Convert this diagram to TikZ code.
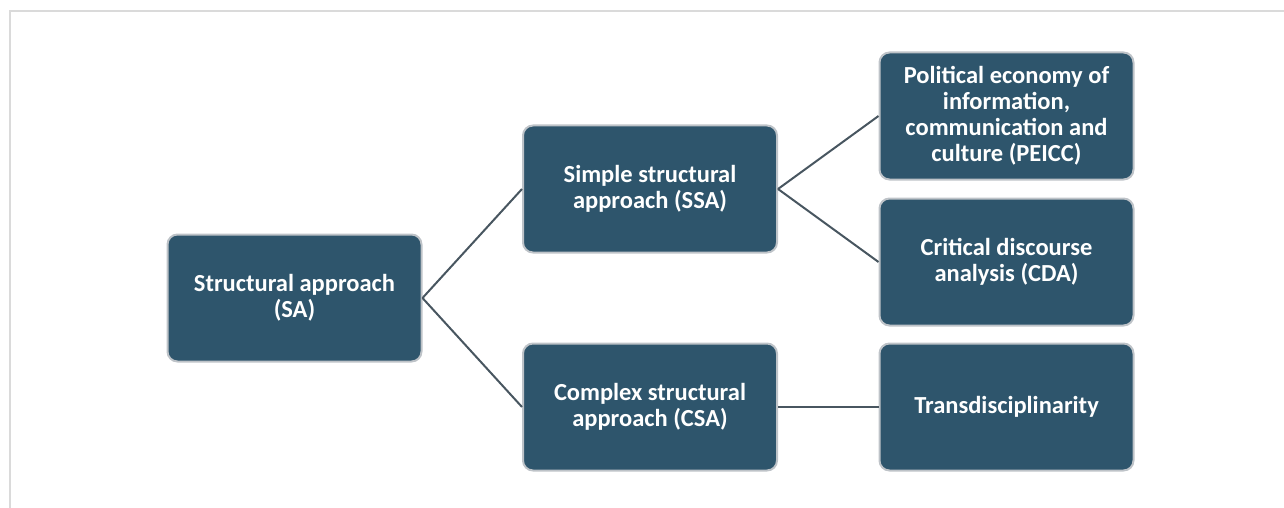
\documentclass[tikz,border=0pt]{standalone}
\usepackage{fontspec}
\setmainfont{Carlito}
\definecolor{boxfill}{RGB}{46,85,108}
\definecolor{boxedge}{RGB}{190,195,200}
\definecolor{linkc}{RGB}{72,86,96}
\definecolor{framec}{RGB}{218,218,218}
\begin{document}
\begin{tikzpicture}[x=1pt,y=-1pt,
  box/.style={draw=boxedge,line width=2pt,fill=boxfill,rounded corners=10pt,
    minimum width=254pt,minimum height=127pt,text=white,align=center,
    font=\fontsize{24.5}{26}\selectfont\bfseries,inner sep=0pt},
  link/.style={draw=linkc,line width=2pt}]
\useasboundingbox (0,0) rectangle (1284,508);
\draw[framec,line width=2pt] (10,508) -- (10,11) -- (1284,11);
\node[box] (sa) at (294.5,298) {Structural approach\\(SA)};
\node[box] (ssa) at (650,189) {Simple structural\\approach (SSA)};
\node[box] (csa) at (650,407) {Complex structural\\approach (CSA)};
\node[box] (peicc) at (1006.5,116) {Political economy of\\information,\\communication and\\culture (PEICC)};
\node[box] (cda) at (1006.5,262) {Critical discourse\\analysis (CDA)};
\node[box] (tr) at (1006.5,407) {Transdisciplinarity};
\draw[link] (sa.east) -- (ssa.west);
\draw[link] (sa.east) -- (csa.west);
\draw[link] (ssa.east) -- (peicc.west);
\draw[link] (ssa.east) -- (cda.west);
\draw[link] (csa.east) -- (tr.west);
\end{tikzpicture}
\end{document}
